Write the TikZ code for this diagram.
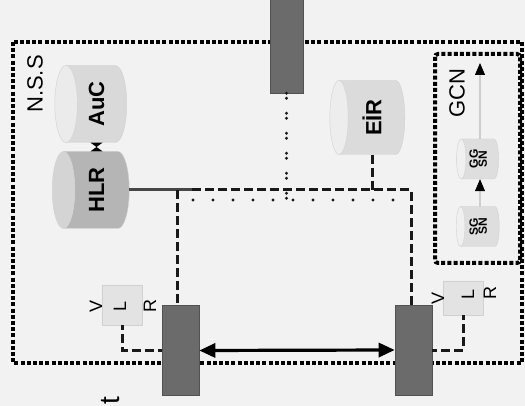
\documentclass[tikz,border=0pt]{standalone}
\usepackage{fontspec}
\setmainfont{Liberation Sans}
\usepackage{graphicx}
\usetikzlibrary{shapes.geometric,arrows.meta,calc}
\begin{document}
\begin{tikzpicture}[x=1pt,y=-1pt,
  frame/.style={line width=4pt, dash pattern=on 4pt off 2.2pt, draw=black},
  cyl/.style={cylinder, shape border rotate=180, shape aspect=0.5, draw=black!18,
    cylinder uses custom fill, inner sep=0pt},
  msc/.style={rectangle, fill=black!58, draw=black!68, line width=0.6pt, inner sep=0pt},
  dashlink/.style={line width=3pt, dash pattern=on 9pt off 4pt, draw=black!90},
  solidlink/.style={line width=3pt, draw=black!72},
  dotlink/.style={line width=3.2pt, line cap=round, dash pattern=on 0pt off 20pt, draw=black!90},
  pairdot/.style={line width=3.2pt, line cap=round, dash pattern=on 0pt off 5pt on 0pt off 15pt, draw=black!90},
  bigarrow/.style={line width=3.2pt, draw=black, {Triangle[length=16pt,width=14pt]}-{Triangle[length=16pt,width=14pt]}},
  thinarrow/.style={line width=0.8pt, draw=black!45, -{Triangle[length=12pt,width=10pt,color=black]}},
  lbl/.style={font=\fontsize{22}{24}\selectfont},
  letter/.style={inner sep=0pt, font=\fontsize{18}{19}\selectfont, rotate=90}
]
\useasboundingbox (0,0) rectangle (525,406);
\fill[black!5] (0,0) rectangle (525,406);

% frames
\draw[frame] (13,42) rectangle (522,363);
\draw[frame, rounded corners=3pt] (435,54) rectangle (520,263);
\node[lbl, rotate=90, inner sep=0pt] (nss) at (35,84) {N.S.S};
\node[lbl, rotate=90, inner sep=0pt] (gcn) at (457,93) {GCN};

% helper coordinates
\coordinate (hj) at (192,190);
\coordinate (lj) at (177,190);
\coordinate (rj) at (411,190);
\coordinate (dy) at (0,200);
\coordinate (dl) at (193,200);
\coordinate (dr) at (396,200);
\coordinate (gtip) at (480,63);

% MSC boxes
\node[msc, minimum width=33pt, minimum height=100pt] (msct) at (286.5,43) {};
\node[msc, minimum width=37pt, minimum height=90pt] (mscl) at (180.5,350.5) {};
\node[msc, minimum width=37pt, minimum height=90pt] (mscr) at (413.5,350) {};

% cylinders
\node[cyl, minimum width=77pt, minimum height=72pt, cylinder body fill=black!15, cylinder end fill=black!8] (auc) at (96.5,104) {\rotatebox{90}{\bfseries\fontsize{22}{24}\selectfont AuC}};
\node[cyl, minimum width=77pt, minimum height=77pt, cylinder body fill=black!29, cylinder end fill=black!17] (hlr) at (96.5,190) {\rotatebox{90}{\bfseries\fontsize{22}{24}\selectfont HLR}};
\node[cyl, minimum width=74pt, minimum height=75pt, cylinder body fill=black!14, cylinder end fill=black!7] (eir) at (372,117.5) {\rotatebox{90}{\bfseries\fontsize{22}{24}\selectfont EİR}};
\node[cyl, minimum width=40pt, minimum height=40pt, cylinder body fill=black!11, cylinder end fill=black!5] (vlrl) at (122,305) {};
\node[cyl, minimum width=34pt, minimum height=40pt, cylinder body fill=black!11, cylinder end fill=black!5] (vlrr) at (463,298) {};
\node[cyl, minimum width=40pt, minimum height=42pt, cylinder body fill=black!13, cylinder end fill=black!6] (ggsn) at (480,159) {\rotatebox{90}{\bfseries\fontsize{12}{12}\selectfont\begin{tabular}{@{}c@{}}GG\\[-3pt]SN\end{tabular}}};
\node[cyl, minimum width=40pt, minimum height=43pt, cylinder body fill=black!13, cylinder end fill=black!6] (sgsn) at (480,226.5) {\rotatebox{90}{\bfseries\fontsize{12}{12}\selectfont\begin{tabular}{@{}c@{}}SG\\[-3pt]SN\end{tabular}}};

% VLR letters
\node[letter] (v1) at (96,306) {V};
\node[letter] (l1) at (120,306) {L};
\node[letter] (r1) at (150,306) {R};
\node[letter] (v2) at (438,298) {V};
\node[letter] (l2) at (468,294) {L};
\node[letter] (r2) at (490,293) {R};

% links
\draw[solidlink] (hlr.east) -- (hlr.east -| hj);
\draw[dashlink] (hlr.east -| hj) -- (hlr.east -| rj) -- (rj |- mscr.north);
\draw[dashlink] (hlr.east -| lj) -- (lj |- mscl.north);
\draw[dashlink] (eir.south) -- (eir.south |- hlr.east);
\draw[pairdot] (msct.south) -- (msct.south |- dy);
\draw[dotlink] (dl) -- (dr);
\draw[dashlink, dash phase=4pt] (vlrl.south) -- (vlrl.south |- mscl.west) -- (mscl.west);
\draw[dashlink, dash phase=4pt] (vlrr.south) -- (vlrr.south |- mscr.east) -- (mscr.east);

% arrows
\draw[bigarrow] (mscl.east) -- (mscr.west);
\fill[black] ($(auc.south)+(-6,0)$) -- ($(auc.south)+(6,0)$) -- ($(hlr.north)+(-6,0)$) -- ($(hlr.north)+(6,0)$) -- cycle;
\draw[thinarrow] (ggsn.north) -- (gtip);
\draw[thinarrow] (sgsn.north) -- (ggsn.south);

% cut-off text at the bottom
\node[rotate=90, inner sep=0pt, font=\fontsize{28}{30}\selectfont] (tcut) at (111,401) {t};
\end{tikzpicture}
\end{document}
